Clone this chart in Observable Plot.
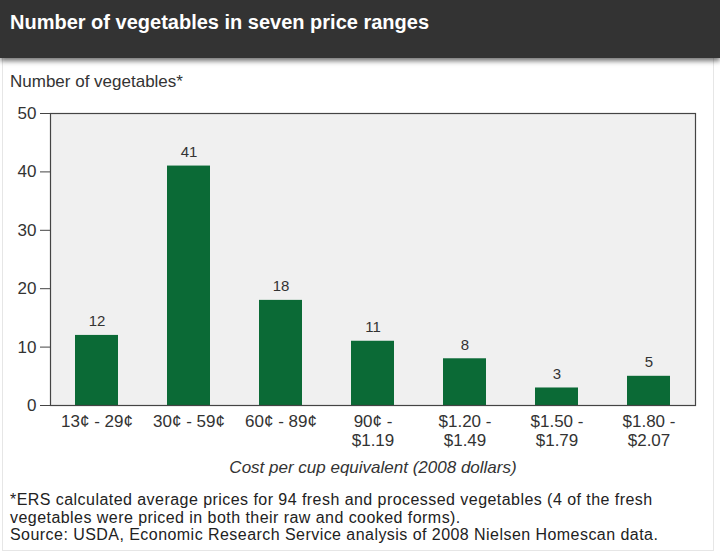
<!DOCTYPE html>
<html>
<head>
<meta charset="utf-8">
<script src="https://cdn.jsdelivr.net/npm/d3@7"></script>
<script src="https://cdn.jsdelivr.net/npm/@observablehq/plot@0.6"></script>
<style>
  body { margin: 0; width: 720px; height: 553px; background: #fff; position: relative; overflow: hidden;
         font-family: "Liberation Sans", Arial, sans-serif; color: #222; }
  #panel { position: absolute; left: 2px; top: 40px; width: 710px; height: 509px; border: 1px solid #e6e6e6; }
  #head { position: absolute; left: 0; top: 0; width: 720px; height: 58px; background: #333;
          box-shadow: 0 3px 5px rgba(0,0,0,0.55); }
  #head h1 { margin: 0; position: absolute; left: 10px; top: 11px; font-size: 20px; font-weight: bold; color: #fff; }
  #ylab { position: absolute; left: 10px; top: 72px; font-size: 17px; color: #333; }
  #chart { position: absolute; left: 0; top: 98px; }
  #note { position: absolute; left: 10px; top: 491px; font-size: 16px; letter-spacing: 0.45px; line-height: 17.5px; color: #222; }
</style>
</head>
<body>
<div id="panel"></div>
<div id="head"><h1>Number of vegetables in seven price ranges</h1></div>
<div id="ylab">Number of vegetables*</div>
<div id="chart"></div>
<div id="note">*ERS calculated average prices for 94 fresh and processed vegetables (4 of the fresh<br>vegetables were priced in both their raw and cooked forms).<br>Source: USDA, Economic Research Service analysis of 2008 Nielsen Homescan data.</div>
<script>
// Price ranges (cost per cup equivalent) and how many vegetables fall in each
const ranges = ["13¢ - 29¢", "30¢ - 59¢", "60¢ - 89¢", "90¢ -\n$1.19", "$1.20 -\n$1.49", "$1.50 -\n$1.79", "$1.80 -\n$2.07"];
const counts = [12, 41, 18, 11, 8, 3, 5];
const yTicks = [0, 10, 20, 30, 40, 50];
const xTitle = "Cost per cup equivalent (2008 dollars)";

const data = ranges.map((range, i) => ({range, count: counts[i]}));

const chart = Plot.plot({
  width: 720,
  height: 380,
  marginTop: 15,
  marginLeft: 50,
  marginRight: 25,
  marginBottom: 73,
  style: {fontFamily: "Liberation Sans, Arial, sans-serif", fontSize: "17px", color: "#333", background: "transparent", overflow: "visible"},
  x: {domain: ranges, paddingInner: 0.53, paddingOuter: 0.26, label: null},
  y: {domain: [0, 50], label: null},
  marks: [
    Plot.frame({fill: "#f0f0f0", stroke: null}),
    Plot.barY(data, {x: "range", y: "count", fill: "#0b6a36"}),
    Plot.text(data, {x: "range", y: "count", text: d => String(d.count), dy: -14, fontSize: 15, fill: "#333"}),
    Plot.frame({stroke: "#444", strokeWidth: 1.2}),
    Plot.axisY({ticks: yTicks, tickSize: 10, tickPadding: 4, label: null, stroke: "#444"}),
    Plot.axisX({tickSize: 0, tickPadding: 8, label: null, lineHeight: 1.12}),
    Plot.text([xTitle], {frameAnchor: "bottom", lineAnchor: "middle", dy: 62, fontStyle: "italic", fill: "#333"})
  ]
});
document.getElementById("chart").append(chart);
</script>
</body>
</html>
